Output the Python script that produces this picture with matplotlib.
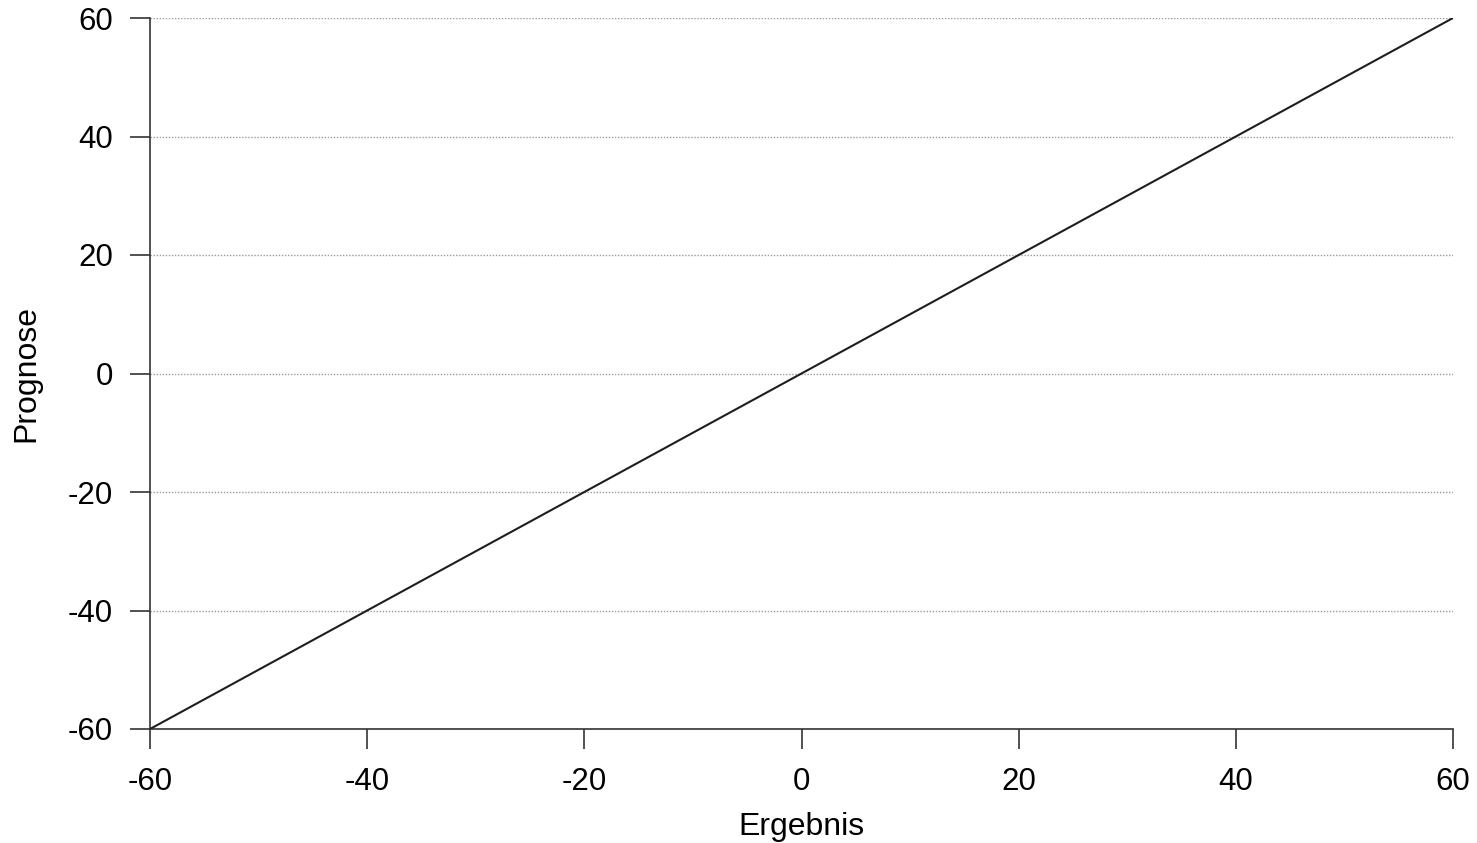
import matplotlib
matplotlib.use("Agg")
import matplotlib.pyplot as plt

# data
ergebnis = [-60, 60]
prognose = [-60, 60]
x_ticks = [-60, -40, -20, 0, 20, 40, 60]
y_ticks = [-60, -40, -20, 0, 20, 40, 60]

plt.rcParams['font.family'] = ['Liberation Sans', 'DejaVu Sans']
plt.rcParams['axes.unicode_minus'] = False

W, H = 1477, 843
fig = plt.figure(figsize=(W / 100, H / 100), dpi=100)
ax = fig.add_axes([150 / W, (H - 729) / H, (1453 - 150) / W, (729 - 18) / H])

for yv in y_ticks:
    ax.axhline(yv, color='#9a9a9a', lw=1.0, ls=(0, (1, 1.2)), zorder=1)

ax.plot(ergebnis, prognose, color='#1e1e1e', lw=1.5, zorder=3)

ax.set_xlim(-60, 60)
ax.set_ylim(-60, 60)
ax.set_xticks(x_ticks)
ax.set_yticks(y_ticks)
ax.tick_params(axis='x', direction='out', length=14.5, width=1.2,
               color='#333333', labelsize=22.5, pad=13)
ax.tick_params(axis='y', direction='out', length=14.5, width=1.2,
               color='#333333', labelsize=22.5, pad=12)
for s in ['top', 'right']:
    ax.spines[s].set_visible(False)
for s in ['left', 'bottom']:
    ax.spines[s].set_linewidth(1.2)
    ax.spines[s].set_color('#333333')

ax.set_xlabel('Ergebnis', fontsize=23, labelpad=11)
ax.set_ylabel('Prognose', fontsize=23, labelpad=19)

fig.savefig('out.png', dpi=100)
